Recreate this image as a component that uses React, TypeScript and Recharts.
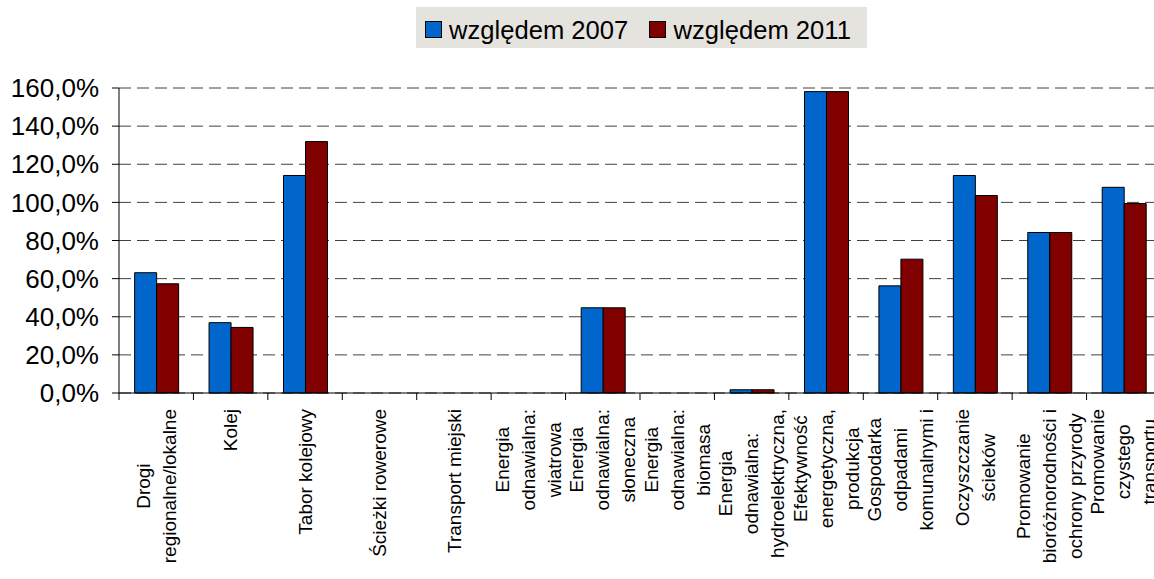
import React from "react";
import { BarChart, Bar, XAxis, YAxis, CartesianGrid, Legend } from "recharts";

// ---- data ----
const categories: string[] = [
  "Drogi regionalne/lokalne",
  "Kolej",
  "Tabor kolejowy",
  "Ścieżki rowerowe",
  "Transport miejski",
  "Energia odnawialna: wiatrowa",
  "Energia odnawialna: słoneczna",
  "Energia odnawialna: biomasa",
  "Energia odnawialna: hydroelektryczna,",
  "Efektywność energetyczna, produkcja",
  "Gospodarka odpadami komunalnymi i",
  "Oczyszczanie ścieków",
  "Promowanie bioróżnorodności i ochrony przyrody",
  "Promowanie czystego transportu",
];

const labelLines: string[][] = [
  ["Drogi", "regionalne/lokalne"],
  ["Kolej"],
  ["Tabor kolejowy"],
  ["Ścieżki rowerowe"],
  ["Transport miejski"],
  ["Energia", "odnawialna:", "wiatrowa"],
  ["Energia", "odnawialna:", "słoneczna"],
  ["Energia", "odnawialna:", "biomasa"],
  ["Energia", "odnawialna:", "hydroelektryczna,"],
  ["Efektywność", "energetyczna,", "produkcja"],
  ["Gospodarka", "odpadami", "komunalnymi i"],
  ["Oczyszczanie", "ścieków"],
  ["Promowanie", "bioróżnorodności i", "ochrony przyrody"],
  ["Promowanie", "czystego", "transportu"],
];

const wzgledem2007: number[] = [63.1, 36.9, 114.1, 0, 0, 0, 44.7, 0, 1.7, 158.1, 56.2, 114.1, 84.2, 107.9];
const wzgledem2011: number[] = [57.3, 34.4, 131.9, 0, 0, 0, 44.7, 0, 1.7, 158.1, 70.2, 103.6, 84.2, 99.4];

const yTicks: number[] = [0, 20, 40, 60, 80, 100, 120, 140, 160];

const seriesNames = ["względem 2007", "względem 2011"];

const data = categories.map((c, i) => ({
  name: c,
  idx: i,
  v2007: wzgledem2007[i],
  v2011: wzgledem2011[i],
}));

// ---- styles ----
const FONT = '"Liberation Sans", Arial, Helvetica, sans-serif';
const BLUE = "#0066CC";
const RED = "#800000";
const LABEL_FS = 19;
const LINE_PITCH = 26;

let ctx: CanvasRenderingContext2D | null = null;
function textWidth(s: string): number {
  if (!ctx && typeof document !== "undefined") {
    ctx = document.createElement("canvas").getContext("2d");
  }
  if (!ctx) return s.length * LABEL_FS * 0.5;
  ctx.font = `${LABEL_FS}px "Liberation Sans"`;
  return ctx.measureText(s).width;
}

const fmt = (v: number) => v.toFixed(1).replace(".", ",") + "%";

const XTick = (props: any) => {
  const { x, y, payload } = props;
  const i = payload.index ?? props.index;
  const half = payload.offset || 37.2;
  const lines = labelLines[i] || [];
  const n = lines.length;
  const maxW = Math.max(...lines.map(textWidth));
  const cy = y + 16 + maxW / 2;
  return (
    <g>
      <line x1={x - half} x2={x - half} y1={y} y2={y + 7} stroke="#000" strokeWidth={1} />
      {lines.map((ln, k) => {
        const lx = x + (k - (n - 1) / 2) * LINE_PITCH + 0.35 * LABEL_FS;
        return (
          <text
            key={k}
            x={lx}
            y={cy}
            transform={`rotate(-90 ${lx} ${cy})`}
            textAnchor="middle"
            fontSize={LABEL_FS}
            fontFamily={FONT}
            fill="#000"
          >
            {ln}
          </text>
        );
      })}
    </g>
  );
};

const LegendBox = () => (
  <svg width={451} height={41} style={{ display: "block" }}>
    <rect x={0} y={0} width={451} height={41} fill="#e5e3de" />
    <rect x={9.5} y={14.5} width={16} height={16} fill={BLUE} stroke="#000" strokeWidth={1} />
    <text x={33} y={31.5} fontSize={25.6} fontFamily={FONT} fill="#000">
      {seriesNames[0]}
    </text>
    <rect x={233.5} y={14.5} width={16} height={16} fill={RED} stroke="#000" strokeWidth={1} />
    <text x={257.5} y={31.5} fontSize={25.6} fontFamily={FONT} fill="#000">
      {seriesNames[1]}
    </text>
  </svg>
);

export default function App() {
  return (
    <div
      style={{
        position: "absolute",
        left: 0,
        top: 0,
        width: 1154,
        height: 579,
        overflow: "hidden",
        background: "#fff",
      }}
    >
      <BarChart
        width={1162}
        height={579}
        data={data}
        margin={{ top: 88, right: 1, bottom: 0, left: 0 }}
        barCategoryGap="21%"
        barGap={0}
      >
        <CartesianGrid vertical={false} stroke="#404040" strokeDasharray="12 6" />
        <XAxis
          dataKey="name"
          interval={0}
          height={186}
          tickLine={false}
          tickSize={0}
          tickMargin={0}
          axisLine={{ stroke: "#000", strokeWidth: 1 }}
          tick={<XTick />}
        />
        <YAxis
          width={119}
          domain={[0, 160]}
          ticks={yTicks}
          tickFormatter={fmt}
          tickSize={7}
          tickMargin={13}
          axisLine={{ stroke: "#000", strokeWidth: 1 }}
          tickLine={{ stroke: "#000", strokeWidth: 1 }}
          tick={{ fontSize: 26, fontFamily: FONT, fill: "#000" }}
          interval={0}
        />
        <Legend
          layout="horizontal"
          verticalAlign="middle"
          align="center"
          wrapperStyle={{ position: "absolute", top: 7, left: 416, width: 451, height: 41 }}
          content={() => <LegendBox />}
        />
        <Bar dataKey="v2007" name={seriesNames[0]} fill={BLUE} stroke="#000" strokeWidth={1} isAnimationActive={false} />
        <Bar dataKey="v2011" name={seriesNames[1]} fill={RED} stroke="#000" strokeWidth={1} isAnimationActive={false} />
      </BarChart>
    </div>
  );
}
